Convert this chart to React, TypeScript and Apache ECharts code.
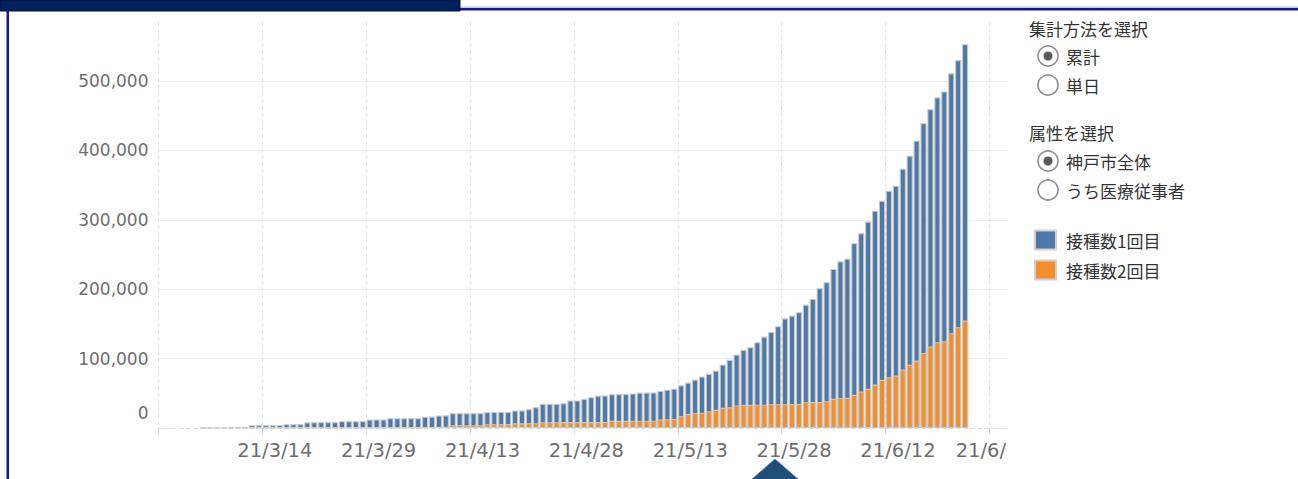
import React, { useEffect, useRef } from "react";
import * as echarts from "echarts";

// Day index 0 = 2021/2/27; first bar is 2021/3/5 (day 6)
const firstBarDay = 6;

// 接種数1回目 (cumulative, stacked on top)
const firstDose = [
  400, 500, 600, 700, 1500, 1600, 1700, 4000, 4100, 4200,
  4200, 4300, 5500, 5600, 5600, 8200, 8300, 8400, 8500, 8500,
  9800, 9900, 9900, 10000, 12200, 12300, 12300, 14100, 14200, 14200,
  14300, 14300, 15400, 15500, 16200, 16200, 17300, 17400, 17400, 17500,
  17500, 17500, 17600, 17600, 17600, 18500, 18600, 20200, 23000, 26400,
  26500, 26600, 27300, 31100, 31200, 33400, 35800, 38100, 38100, 38400,
  38500, 38600, 39300, 40400, 40500, 40600, 41100, 42600, 43800, 44500,
  45500, 48100, 52200, 53800, 56600, 62300, 68200, 73400, 79200, 83000,
  90100, 98200, 104200, 112200, 123700, 127500, 132200, 140600, 148700, 164000,
  171400, 187200, 196800, 200600, 218400, 228000, 241000, 250600, 258200, 268800,
  273600, 289500, 301400, 316800, 331200, 342200, 352800, 360000, 374400, 385000,
  398400,
];

// 接種数2回目 (cumulative, bottom of stack)
const secondDose = [
  0, 0, 0, 0, 0, 0, 0, 0, 0, 0,
  0, 0, 0, 0, 0, 0, 0, 0, 0, 0,
  0, 0, 0, 0, 0, 0, 0, 0, 0, 0,
  0, 0, 800, 1000, 1800, 2000, 4000, 4000, 4000, 4000,
  4000, 5500, 5500, 5500, 5600, 6800, 6800, 6900, 7000, 8400,
  8400, 8400, 8500, 8500, 8500, 8600, 8600, 8600, 8700, 10400,
  10400, 10400, 10500, 10600, 10600, 10600, 12300, 12600, 13000, 17000,
  20000, 21700, 22000, 24200, 26200, 29100, 30000, 32400, 33400, 33400,
  33500, 33600, 34300, 34400, 34400, 34500, 34600, 37200, 37300, 37400,
  38600, 42000, 43400, 43500, 47800, 52600, 56400, 62600, 69400, 73200,
  75600, 84200, 91000, 97200, 108200, 117400, 123600, 125000, 136600, 145200,
  154800,
];

// x tick labels every 15 days from 2/27 (last one is clipped in the original)
const xTickLabels = ["", "21/3/14", "21/3/29", "21/4/13", "21/4/28", "21/5/13", "21/5/28", "21/6/12", "21/6/"];
const yTickLabels = ["0", "100,000", "200,000", "300,000", "400,000", "500,000"];

const seriesNames = ["接種数1回目", "接種数2回目"];
const seriesColors = ["#4e79a7", "#f28e2b"];

const method = { title: "集計方法を選択", options: ["累計", "単日"], selected: 0 };
const attribute = { title: "属性を選択", options: ["神戸市全体", "うち医療従事者"], selected: 0 };

const AXIS_FONT = "'DejaVu Sans', Verdana, sans-serif";
const JP_FONT = "'Noto Sans CJK JP', sans-serif";
const LABEL_COLOR = "#6e6e6e";

export default function App() {
  const ref = useRef<HTMLDivElement>(null);

  useEffect(() => {
    if (!ref.current) return;
    const chart = echarts.init(ref.current, undefined, { renderer: "svg" });

    const xs = firstDose.map((_, i) => firstBarDay + i + 0.5);
    // stacked bar: the 1st-dose segment sits on top of the 2nd-dose segment
    const stackTop = firstDose.map((v, i) => v + secondDose[i]);

    const graphics: any[] = [];
    // header decorations
    graphics.push({ type: "rect", shape: { x: 460, y: 6.5, width: 838, height: 1.5 }, style: { fill: "#c4c4e6" } });
    graphics.push({ type: "rect", shape: { x: 460, y: 8, width: 838, height: 2.5 }, style: { fill: "#17178c" } });
    graphics.push({ type: "rect", shape: { x: 0, y: 0, width: 460, height: 11 }, style: { fill: "#012060", stroke: "#0b1430", lineWidth: 1 } });
    graphics.push({ type: "rect", shape: { x: 6.5, y: 10, width: 2.5, height: 469 }, style: { fill: "#17178c" } });
    // bottom triangle
    graphics.push({
      type: "polygon",
      shape: { points: [[751, 480], [775, 459], [799, 480]] },
      style: { fill: "#1f4e79", stroke: "#5a81ab", lineWidth: 1 },
    });

    const addRadioGroup = (group: typeof method, titleY: number, firstY: number) => {
      graphics.push({
        type: "text",
        x: 1029,
        y: titleY,
        style: { text: group.title, font: `17px ${JP_FONT}`, fill: "#333333", verticalAlign: "middle", align: "left" },
      });
      group.options.forEach((opt, k) => {
        const cy = firstY + k * 29;
        graphics.push({ type: "circle", shape: { cx: 1048, cy, r: 10 }, style: { fill: "#ffffff", stroke: "#8e8e8e", lineWidth: 1.6 } });
        if (k === group.selected) {
          graphics.push({ type: "circle", shape: { cx: 1048, cy, r: 4.5 }, style: { fill: "#5a5a5a" } });
        }
        graphics.push({
          type: "text",
          x: 1066,
          y: cy,
          style: { text: opt, font: `17px ${JP_FONT}`, fill: "#333333", verticalAlign: "middle", align: "left" },
        });
      });
    };
    addRadioGroup(method, 28, 56);
    addRadioGroup(attribute, 132, 161);

    seriesNames.forEach((name, k) => {
      const cy = 240 + k * 30;
      graphics.push({
        type: "rect",
        shape: { x: 1035, y: cy - 9.5, width: 21, height: 19 },
        style: { fill: seriesColors[k], stroke: "#d0d0d0", lineWidth: 2 },
      });
      graphics.push({
        type: "text",
        x: 1066,
        y: cy,
        style: { text: name, font: `17px ${JP_FONT}`, fill: "#333333", verticalAlign: "middle", align: "left" },
      });
    });

    const barStyle = (color: string) => ({ color, borderColor: "#c9c9c9", borderWidth: 1.1 });

    chart.setOption({
      animation: false,
      backgroundColor: "#ffffff",
      grid: { left: 158.5, right: 290, top: 22, bottom: 51, containLabel: false },
      xAxis: {
        type: "value",
        min: 0,
        max: 122.7,
        interval: 15,
        axisLine: { show: true, lineStyle: { color: "#dcdcdc", type: [4, 3], width: 1 } },
        axisTick: { show: true, length: 6, lineStyle: { color: "#d6d6d6" }, customValues: [0, 15, 30, 45, 60, 75, 90, 105, 120] },
        splitLine: {
          show: true,
          lineStyle: {
            color: ["#e2e2e2", "#e2e2e2", "#e2e2e2", "#e2e2e2", "#e2e2e2", "#e2e2e2", "#e2e2e2", "#e2e2e2", "#e2e2e2", "rgba(0,0,0,0)"],
            type: [4, 3],
            width: 1,
          },
        },
        axisLabel: {
          show: true,
          margin: 12,
          showMaxLabel: false,
          formatter: (v: number) => {
            const k = Math.round(v / 15);
            if (Math.abs(v - k * 15) > 1e-6) return "";
            const t = xTickLabels[k];
            if (!t) return "";
            return k === xTickLabels.length - 1 ? `{e|${t}}` : `{n|${t}}`;
          },
          rich: {
            n: { fontFamily: AXIS_FONT, fontSize: 19.5, color: LABEL_COLOR, padding: [0, 0, 0, 25] },
            e: { fontFamily: AXIS_FONT, fontSize: 19.5, color: LABEL_COLOR, padding: [0, 17, 0, 0] },
          },
        },
      },
      yAxis: {
        type: "value",
        min: 0,
        max: 585000,
        interval: 100000,
        axisLine: { show: false },
        axisTick: { show: false },
        splitLine: {
          show: true,
          lineStyle: {
            color: ["rgba(0,0,0,0)", "#ececec", "#ececec", "#ececec", "#ececec", "#ececec", "rgba(0,0,0,0)"],
            width: 1.2,
          },
        },
        axisLabel: {
          margin: 10,
          showMaxLabel: false,
          formatter: (v: number) => {
            if (v % 100000 !== 0) return "";
            const t = yTickLabels[v / 100000];
            if (t === undefined) return "";
            return v === 0 ? `{z|${t}}` : `{n|${t}}`;
          },
          rich: {
            n: { fontFamily: AXIS_FONT, fontSize: 17, color: LABEL_COLOR },
            z: { fontFamily: AXIS_FONT, fontSize: 17, color: LABEL_COLOR, padding: [0, 0, 30, 0] },
          },
        },
      },
      series: [
        {
          name: seriesNames[0],
          type: "bar",
          barWidth: 6.2,
          barGap: "-100%",
          itemStyle: barStyle(seriesColors[0]),
          data: xs.map((x, i) => [x, stackTop[i]]),
        },
        {
          name: seriesNames[1],
          type: "bar",
          barWidth: 6.2,
          barGap: "-100%",
          itemStyle: barStyle(seriesColors[1]),
          data: xs.map((x, i) => [x, secondDose[i]]),
        },
      ],
      graphic: graphics,
    });

    return () => chart.dispose();
  }, []);

  return (
    <div
      ref={ref}
      style={{ position: "absolute", left: 0, top: 0, width: 1298, height: 479, background: "#ffffff" }}
    />
  );
}
